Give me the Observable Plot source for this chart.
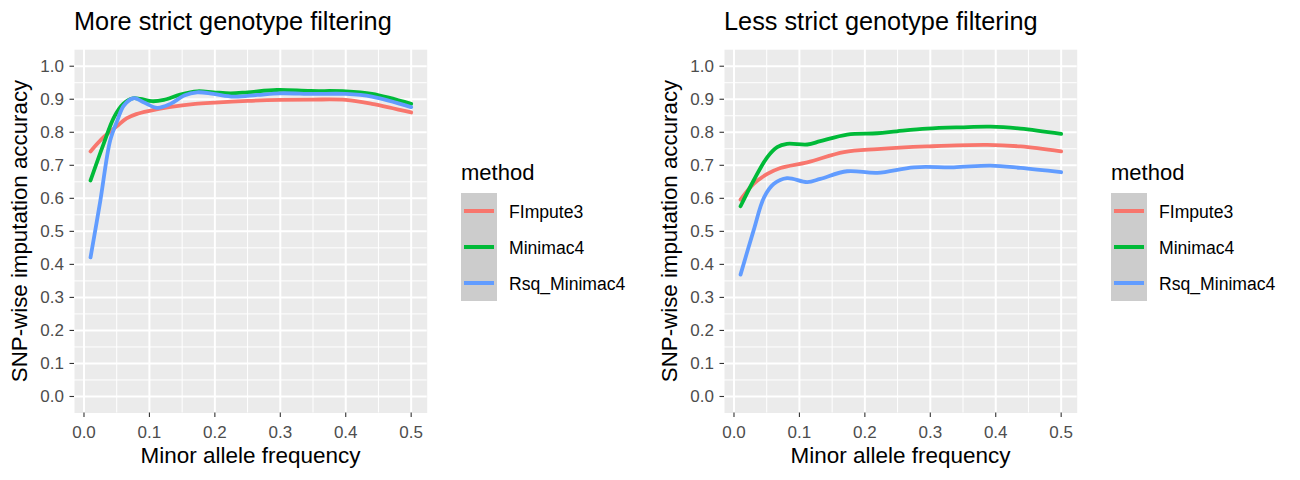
<!DOCTYPE html>
<html>
<head>
<meta charset="utf-8">
<script src="https://cdn.jsdelivr.net/npm/d3@7"></script>
<script src="https://cdn.jsdelivr.net/npm/@observablehq/plot@0.6"></script>
<style>
  html, body { margin: 0; padding: 0; background: #fff; }
  body { width: 1300px; height: 480px; overflow: hidden; font-family: "Liberation Sans", Arial, sans-serif; }
  #wrap { display: flex; }
  .panel { position: relative; width: 650px; height: 480px; }
  .panel svg.plot { position: absolute; left: 0; top: 0; }
  .title { position: absolute; left: 74px; top: 7px; font-size: 25.3px; color: #000; white-space: nowrap; }
  .xlab { position: absolute; left: 74px; width: 353px; top: 443px; text-align: center; font-size: 22.5px; color: #000; white-space: nowrap; }
  .ylab { position: absolute; left: 20px; top: 231px; font-size: 22.3px; color: #000; white-space: nowrap;
          transform: translate(-50%, -50%) rotate(-90deg); }
  .legend { position: absolute; left: 461px; top: 156px; }
  .legend .lt { font-size: 22px; color: #000; height: 37px; line-height: 34px; }
  .legend .row { display: flex; align-items: center; height: 36.1px; }
  .legend .key { width: 35.5px; height: 36.1px; background: #CCCCCC; position: relative; }
  .legend .key i { position: absolute; left: 3px; right: 3px; top: 16px; height: 4px; display: block; }
  .legend .lab { font-size: 17.6px; margin-left: 12.5px; color: #000; white-space: nowrap; position: relative; top: 1px; }
</style>
</head>
<body>
<div id="wrap"></div>
<script>
// ---- data ----
const methods = ["FImpute3", "Minimac4", "Rsq_Minimac4"];
const methodColors = ["#F8766D", "#00BA38", "#619CFF"];
const panelTitles = ["More strict genotype filtering", "Less strict genotype filtering"];
const xLabel = "Minor allele frequency";
const yLabel = "SNP-wise imputation accuracy";
const legendTitle = "method";
const xMajor = [0, 0.1, 0.2, 0.3, 0.4, 0.5];
const xMinor = [0.05, 0.15, 0.25, 0.35, 0.45];
const yMajor = [0, 0.1, 0.2, 0.3, 0.4, 0.5, 0.6, 0.7, 0.8, 0.9, 1.0];
const yMinor = [0.05, 0.15, 0.25, 0.35, 0.45, 0.55, 0.65, 0.75, 0.85, 0.95];

// More strict filtering
const strictFImpute3 = [[0.01,0.742],[0.03,0.785],[0.05,0.818],[0.065,0.842],[0.08,0.855],[0.10,0.865],[0.13,0.876],[0.17,0.886],[0.20,0.890],[0.25,0.895],[0.30,0.898],[0.35,0.899],[0.40,0.898],[0.44,0.886],[0.50,0.860]];
const strictMinimac4 = [[0.01,0.654],[0.03,0.765],[0.046,0.846],[0.06,0.886],[0.075,0.903],[0.086,0.901],[0.104,0.894],[0.122,0.898],[0.147,0.914],[0.173,0.924],[0.198,0.921],[0.224,0.918],[0.25,0.921],[0.295,0.928],[0.346,0.925],[0.40,0.924],[0.44,0.916],[0.50,0.886]];
const strictRsqMinimac4 = [[0.01,0.421],[0.025,0.593],[0.04,0.775],[0.051,0.836],[0.061,0.881],[0.076,0.903],[0.091,0.891],[0.112,0.874],[0.132,0.886],[0.153,0.911],[0.173,0.921],[0.198,0.916],[0.229,0.908],[0.265,0.913],[0.30,0.918],[0.35,0.916],[0.40,0.916],[0.44,0.908],[0.50,0.876]];

// Less strict filtering
const lessFImpute3 = [[0.01,0.596],[0.03,0.644],[0.051,0.674],[0.071,0.692],[0.112,0.709],[0.168,0.740],[0.219,0.749],[0.295,0.757],[0.387,0.762],[0.438,0.757],[0.50,0.742]];
const lessMinimac4 = [[0.01,0.576],[0.03,0.654],[0.051,0.725],[0.066,0.755],[0.081,0.765],[0.112,0.763],[0.132,0.773],[0.173,0.793],[0.219,0.797],[0.249,0.803],[0.295,0.811],[0.346,0.815],[0.392,0.817],[0.438,0.811],[0.50,0.795]];
const lessRsqMinimac4 = [[0.01,0.369],[0.03,0.503],[0.046,0.603],[0.061,0.644],[0.081,0.661],[0.112,0.649],[0.132,0.659],[0.173,0.682],[0.219,0.677],[0.275,0.694],[0.336,0.694],[0.392,0.699],[0.438,0.692],[0.50,0.679]];

const panelSeries = [
  [strictFImpute3, strictMinimac4, strictRsqMinimac4],
  [lessFImpute3, lessMinimac4, lessRsqMinimac4]
];

function toRows(seriesList) {
  const rows = [];
  seriesList.forEach((s, i) => s.forEach(([x, y]) => rows.push({x, y, method: methods[i]})));
  return rows;
}

const FONT = "Liberation Sans, Arial, sans-serif";
const wrap = document.getElementById("wrap");

panelSeries.forEach((series, p) => {
  const rows = toRows(series);
  const panel = document.createElement("div");
  panel.className = "panel";

  const chart = Plot.plot({
    width: 650,
    height: 480,
    marginLeft: 74,
    marginRight: 223.3,
    marginTop: 49.2,
    marginBottom: 67.5,
    style: {fontFamily: FONT, background: "transparent", overflow: "visible"},
    x: {domain: [-0.0145, 0.5245]},
    y: {domain: [-0.05, 1.05]},
    color: {domain: methods, range: methodColors},
    marks: [
      Plot.frame({fill: "#EBEBEB", stroke: null}),
      Plot.gridX(xMinor, {stroke: "#FFFFFF", strokeOpacity: 1, strokeWidth: 1}),
      Plot.gridY(yMinor, {stroke: "#FFFFFF", strokeOpacity: 1, strokeWidth: 1}),
      Plot.gridX(xMajor, {stroke: "#FFFFFF", strokeOpacity: 1, strokeWidth: 2}),
      Plot.gridY(yMajor, {stroke: "#FFFFFF", strokeOpacity: 1, strokeWidth: 2}),
      Plot.line(rows, {x: "x", y: "y", stroke: "method", z: "method", curve: "catmull-rom", strokeWidth: 3.8}),
      Plot.axisX(xMajor, {tickSize: 4.5, tickPadding: 8.5, fontSize: 17, tickFormat: d => d.toFixed(1), stroke: "#333333", fill: "#4D4D4D", strokeWidth: 1.1, label: null}),
      Plot.axisY(yMajor, {tickSize: 4.5, tickPadding: 6, fontSize: 17, tickFormat: d => d.toFixed(1), stroke: "#333333", fill: "#4D4D4D", strokeWidth: 1.1, label: null})
    ]
  });
  chart.classList.add("plot");
  panel.appendChild(chart);

  const t = document.createElement("div");
  t.className = "title"; t.textContent = panelTitles[p];
  panel.appendChild(t);
  const xl = document.createElement("div");
  xl.className = "xlab"; xl.textContent = xLabel;
  panel.appendChild(xl);
  const yl = document.createElement("div");
  yl.className = "ylab"; yl.textContent = yLabel;
  panel.appendChild(yl);

  const lg = document.createElement("div");
  lg.className = "legend";
  const lt = document.createElement("div");
  lt.className = "lt"; lt.textContent = legendTitle;
  lg.appendChild(lt);
  methods.forEach((m, i) => {
    const row = document.createElement("div");
    row.className = "row";
    const key = document.createElement("div");
    key.className = "key";
    const line = document.createElement("i");
    line.style.background = methodColors[i];
    key.appendChild(line);
    const lab = document.createElement("span");
    lab.className = "lab"; lab.textContent = m;
    row.appendChild(key); row.appendChild(lab);
    lg.appendChild(row);
  });
  panel.appendChild(lg);
  wrap.appendChild(panel);
});
</script>
</body>
</html>
